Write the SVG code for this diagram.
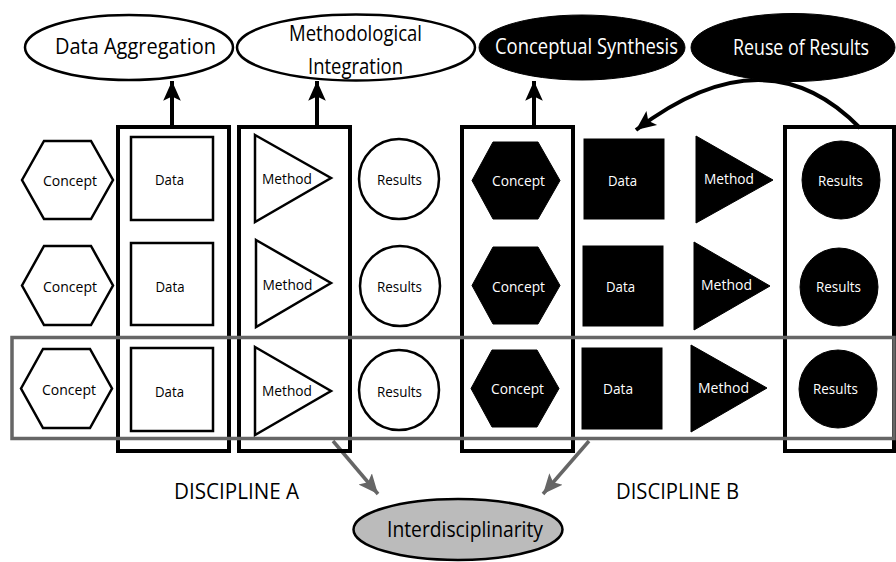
<svg xmlns="http://www.w3.org/2000/svg" width="896" height="562" viewBox="0 0 896 562">
<style>
text{font-family:"Open Sans","Liberation Sans",sans-serif;text-anchor:middle}
.big{font-size:21px}
.sm{font-size:14.5px}
.disc{font-size:22px}
.w{fill:#000}
.b{fill:#fff}
.ow{fill:#fff;stroke:#000;stroke-width:2.5}
.ob{fill:#000;stroke:#000;stroke-width:1}
.col{fill:none;stroke:#000;stroke-width:4}
.con{fill:none;stroke:#000;stroke-width:4}
.gcon{fill:none;stroke:#666;stroke-width:3.5}
</style>
<defs>
<marker id="ah" markerUnits="userSpaceOnUse" markerWidth="22" markerHeight="22" refX="18" refY="8" orient="auto" viewBox="0 0 20 16">
<path d="M0,0 L18,8 L0,16 L4,8 Z" fill="#000"/>
</marker>
<marker id="gah" markerUnits="userSpaceOnUse" markerWidth="22" markerHeight="22" refX="18" refY="8" orient="auto" viewBox="0 0 20 16">
<path d="M0,0 L18,8 L0,16 L4,8 Z" fill="#666"/>
</marker>
</defs>

<g id="connectors">
<path class="con" d="M172,127 L172,81" marker-end="url(#ah)"/>
<path class="con" d="M317,127 L317,81" marker-end="url(#ah)"/>
<path class="con" d="M534,127 L534,81" marker-end="url(#ah)"/>
<path class="con" d="M860,128 Q766,31 636,130" marker-end="url(#ah)"/>
<path class="gcon" d="M333,441 L378,494" marker-end="url(#gah)"/>
<path class="gcon" d="M589,441 L543,494" marker-end="url(#gah)"/>
</g>

<g id="data-aggregation"><ellipse class="ow" cx="129" cy="47.5" rx="104" ry="32.5"/><text class="big w" x="135.5" y="54" textLength="161" lengthAdjust="spacingAndGlyphs">Data Aggregation</text></g>
<g id="methodological-integration"><ellipse class="ow" cx="356" cy="47.5" rx="119" ry="33"/><text class="big w" x="355.5" y="41" textLength="133" lengthAdjust="spacingAndGlyphs">Methodological</text><text class="big w" x="355.5" y="74" textLength="95" lengthAdjust="spacingAndGlyphs">Integration</text></g>
<g id="conceptual-synthesis"><ellipse class="ob" cx="582" cy="47.5" rx="103" ry="32.5"/><text class="big b" x="586.5" y="54" textLength="183" lengthAdjust="spacingAndGlyphs">Conceptual Synthesis</text></g>
<g id="reuse-of-results"><ellipse class="ob" cx="793" cy="47.5" rx="102" ry="34"/><text class="big b" x="801" y="55" textLength="136" lengthAdjust="spacingAndGlyphs">Reuse of Results</text></g>

<g id="col-data-a"><rect class="col" x="118" y="127" width="111" height="324"/></g>
<g id="col-method-a"><rect class="col" x="239" y="127" width="111" height="324"/></g>
<g id="col-concept-b"><rect class="col" x="462" y="127" width="111" height="324"/></g>
<g id="col-results-b"><rect class="col" x="785" y="127" width="109" height="324"/></g>

<!-- Discipline A -->
<g id="a-concept-1"><polygon class="ow" points="22,180 44,141 91,141 113,180 91,219 44,219"/><text class="sm w" x="70" y="185.5" textLength="54" lengthAdjust="spacingAndGlyphs">Concept</text></g>
<g id="a-data-1"><rect class="ow" x="131" y="137" width="82" height="83"/><text class="sm w" x="169.5" y="184.5" textLength="29" lengthAdjust="spacingAndGlyphs">Data</text></g>
<g id="a-method-1"><polygon class="ow" points="255,135 331,178 255,222"/><text class="sm w" x="287" y="183.5" textLength="50" lengthAdjust="spacingAndGlyphs">Method</text></g>
<g id="a-results-1"><circle class="ow" cx="399" cy="179" r="40"/><text class="sm w" x="399.5" y="184.5" textLength="45" lengthAdjust="spacingAndGlyphs">Results</text></g>

<g id="a-concept-2"><polygon class="ow" points="22,285.5 44,246 91,246 113,285.5 91,325 44,325"/><text class="sm w" x="70" y="291.5" textLength="54" lengthAdjust="spacingAndGlyphs">Concept</text></g>
<g id="a-data-2"><rect class="ow" x="131" y="243" width="82" height="82"/><text class="sm w" x="170" y="291.5" textLength="29" lengthAdjust="spacingAndGlyphs">Data</text></g>
<g id="a-method-2"><polygon class="ow" points="256,240 331,283 256,327"/><text class="sm w" x="287.5" y="289.5" textLength="50" lengthAdjust="spacingAndGlyphs">Method</text></g>
<g id="a-results-2"><circle class="ow" cx="400" cy="286" r="40"/><text class="sm w" x="399.5" y="291.5" textLength="45" lengthAdjust="spacingAndGlyphs">Results</text></g>

<g id="a-concept-3"><polygon class="ow" points="21,388.5 43,349 90,349 112,388.5 90,428 43,428"/><text class="sm w" x="69" y="394.5" textLength="54" lengthAdjust="spacingAndGlyphs">Concept</text></g>
<g id="a-data-3"><rect class="ow" x="131" y="348" width="82" height="83"/><text class="sm w" x="169.5" y="396.5" textLength="29" lengthAdjust="spacingAndGlyphs">Data</text></g>
<g id="a-method-3"><polygon class="ow" points="255,347 331,391 255,435"/><text class="sm w" x="287" y="395.5" textLength="50" lengthAdjust="spacingAndGlyphs">Method</text></g>
<g id="a-results-3"><circle class="ow" cx="399" cy="390" r="40"/><text class="sm w" x="399.5" y="396.5" textLength="45" lengthAdjust="spacingAndGlyphs">Results</text></g>

<!-- Discipline B -->
<g id="b-concept-1"><polygon class="ob" points="472,180.5 493,142 538,142 560,180.5 538,219 493,219"/><text class="sm b" x="518.5" y="185.5" textLength="53" lengthAdjust="spacingAndGlyphs">Concept</text></g>
<g id="b-data-1"><rect class="ob" x="584" y="139" width="80" height="80"/><text class="sm b" x="622.5" y="185.5" textLength="29" lengthAdjust="spacingAndGlyphs">Data</text></g>
<g id="b-method-1"><polygon class="ob" points="696,136 773,180 696,223"/><text class="sm b" x="729" y="183.5" textLength="50" lengthAdjust="spacingAndGlyphs">Method</text></g>
<g id="b-results-1"><circle class="ob" cx="841" cy="180" r="39"/><text class="sm b" x="840.5" y="185.5" textLength="45" lengthAdjust="spacingAndGlyphs">Results</text></g>

<g id="b-concept-2"><polygon class="ob" points="472,285.5 493,247 538,247 560,285.5 538,324 493,324"/><text class="sm b" x="518.5" y="291.5" textLength="53" lengthAdjust="spacingAndGlyphs">Concept</text></g>
<g id="b-data-2"><rect class="ob" x="583" y="246" width="80" height="80"/><text class="sm b" x="620.5" y="291.5" textLength="29" lengthAdjust="spacingAndGlyphs">Data</text></g>
<g id="b-method-2"><polygon class="ob" points="694,242 770,286 694,330"/><text class="sm b" x="726.5" y="289.5" textLength="51" lengthAdjust="spacingAndGlyphs">Method</text></g>
<g id="b-results-2"><circle class="ob" cx="839" cy="287" r="39"/><text class="sm b" x="838.5" y="291.5" textLength="45" lengthAdjust="spacingAndGlyphs">Results</text></g>

<g id="b-concept-3"><polygon class="ob" points="471,388.5 492,350 537,350 559,388.5 537,427 492,427"/><text class="sm b" x="517.5" y="393.5" textLength="53" lengthAdjust="spacingAndGlyphs">Concept</text></g>
<g id="b-data-3"><rect class="ob" x="582" y="348" width="80" height="81"/><text class="sm b" x="618" y="393.5" textLength="30" lengthAdjust="spacingAndGlyphs">Data</text></g>
<g id="b-method-3"><polygon class="ob" points="691,345 767,388 691,432"/><text class="sm b" x="723.5" y="392.5" textLength="51" lengthAdjust="spacingAndGlyphs">Method</text></g>
<g id="b-results-3"><circle class="ob" cx="838" cy="389" r="39"/><text class="sm b" x="835.5" y="393.5" textLength="45" lengthAdjust="spacingAndGlyphs">Results</text></g>

<g id="row-box"><rect x="12" y="337.5" width="882" height="101" fill="none" stroke="#666" stroke-width="3.5"/></g>

<g id="discipline-a"><text class="disc w" x="236.5" y="498.5" textLength="125" lengthAdjust="spacingAndGlyphs">DISCIPLINE A</text></g>
<g id="discipline-b"><text class="disc w" x="677.5" y="498.5" textLength="123" lengthAdjust="spacingAndGlyphs">DISCIPLINE B</text></g>

<g id="interdisciplinarity"><ellipse cx="458" cy="529.5" rx="104.5" ry="30.5" fill="#bbb" stroke="#000" stroke-width="2.5"/><text class="big w" x="465" y="536.5" textLength="156" lengthAdjust="spacingAndGlyphs">Interdisciplinarity</text></g>
</svg>
